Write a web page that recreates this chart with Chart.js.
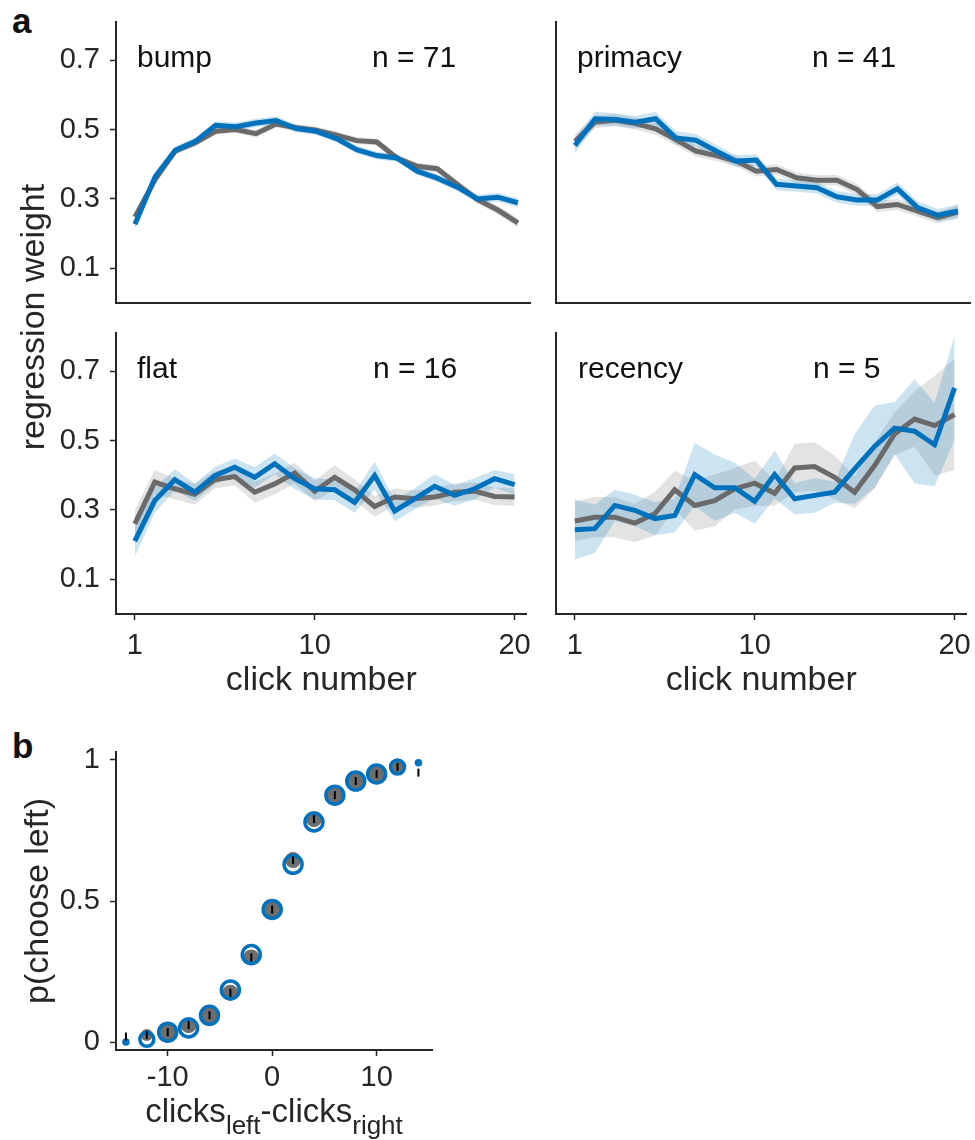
<!DOCTYPE html>
<html>
<head>
<meta charset="utf-8">
<script src="https://cdn.jsdelivr.net/npm/chart.js@4.4.1/dist/chart.umd.min.js"></script>
<style>
  body { margin: 0; width: 975px; height: 1140px; overflow: hidden; position: relative; background: #fff;
         font-family: "Liberation Sans", Arial, sans-serif; color: #111; }
  canvas { position: absolute; }
  .txt { position: absolute; font-size: 30px; line-height: 30px; white-space: nowrap; }
  .tag { position: absolute; font-size: 35px; line-height: 35px; font-weight: bold; }
  .ytitle { position: absolute; width: 400px; text-align: center; font-size: 34px; line-height: 34px;
            white-space: nowrap; transform: rotate(-90deg); color: #262626; }
  .xtitle { position: absolute; width: 500px; text-align: center; font-size: 33px; line-height: 33px;
            white-space: nowrap; color: #262626; }
  .xtitle span { font-size: 26px; vertical-align: -12px; }
</style>
</head>
<body>
<div class="tag" style="left:12px;top:3px">a</div>
<div class="tag" style="left:12px;top:728px">b</div>

<canvas id="bump" width="540" height="345" style="left:0;top:-10px"></canvas>
<canvas id="primacy" width="440" height="345" style="left:540px;top:-10px"></canvas>
<canvas id="flat" width="540" height="430" style="left:0;top:300px"></canvas>
<canvas id="recency" width="440" height="430" style="left:540px;top:300px"></canvas>
<canvas id="psycho" width="450" height="420" style="left:0;top:720px"></canvas>

<div class="txt" style="left:137px;top:42px">bump</div>
<div class="txt" style="left:372px;top:42px">n = 71</div>
<div class="txt" style="left:577px;top:42px">primacy</div>
<div class="txt" style="left:812px;top:42px">n = 41</div>
<div class="txt" style="left:137px;top:353px">flat</div>
<div class="txt" style="left:373px;top:353px">n = 16</div>
<div class="txt" style="left:578px;top:353px">recency</div>
<div class="txt" style="left:813px;top:353px">n = 5</div>

<div class="ytitle" style="left:-168px;top:300px">regression weight</div>
<div class="xtitle" style="left:24px;top:1094px">clicks<span>left</span>-clicks<span>right</span></div>

<script>
var clicks = [1, 2, 3, 4, 5, 6, 7, 8, 9, 10, 11, 12, 13, 14, 15, 16, 17, 18, 19, 20];
var weightTicks = [0.1, 0.3, 0.5, 0.7];
var clickTicks = [1, 10, 20];

// gray = data, blue = model; *Err = half width of the shaded band
var bumpData = [0.248, 0.356, 0.438, 0.462, 0.495, 0.5, 0.488, 0.516, 0.505, 0.498, 0.484, 0.468, 0.464, 0.418, 0.394, 0.387, 0.342, 0.298, 0.268, 0.231];
var bumpDataErr = [0.012, 0.011, 0.01, 0.01, 0.01, 0.01, 0.01, 0.01, 0.01, 0.01, 0.01, 0.01, 0.01, 0.01, 0.01, 0.011, 0.011, 0.012, 0.012, 0.013];
var bumpModel = [0.227, 0.364, 0.44, 0.466, 0.512, 0.508, 0.519, 0.526, 0.503, 0.495, 0.474, 0.442, 0.425, 0.418, 0.38, 0.36, 0.334, 0.3, 0.305, 0.289];
var bumpModelErr = [0.013, 0.012, 0.012, 0.011, 0.012, 0.012, 0.012, 0.012, 0.011, 0.011, 0.011, 0.011, 0.011, 0.011, 0.011, 0.011, 0.012, 0.012, 0.013, 0.013];

var primacyData = [0.466, 0.522, 0.527, 0.517, 0.502, 0.471, 0.438, 0.425, 0.409, 0.38, 0.385, 0.361, 0.354, 0.354, 0.327, 0.278, 0.284, 0.265, 0.246, 0.262];
var primacyDataErr = [0.02, 0.018, 0.017, 0.017, 0.017, 0.017, 0.016, 0.016, 0.015, 0.015, 0.015, 0.015, 0.015, 0.015, 0.016, 0.016, 0.016, 0.016, 0.017, 0.018];
var primacyModel = [0.454, 0.531, 0.529, 0.521, 0.531, 0.476, 0.469, 0.438, 0.409, 0.412, 0.342, 0.337, 0.332, 0.306, 0.297, 0.297, 0.329, 0.275, 0.253, 0.265];
var primacyModelErr = [0.022, 0.02, 0.018, 0.018, 0.02, 0.02, 0.018, 0.018, 0.017, 0.017, 0.017, 0.016, 0.016, 0.017, 0.017, 0.017, 0.018, 0.018, 0.018, 0.02];

var flatData = [0.26, 0.38, 0.361, 0.345, 0.387, 0.396, 0.351, 0.375, 0.406, 0.354, 0.394, 0.358, 0.31, 0.337, 0.332, 0.337, 0.351, 0.354, 0.339, 0.337];
var flatDataErr = [0.04, 0.035, 0.03, 0.03, 0.025, 0.025, 0.03, 0.03, 0.03, 0.03, 0.035, 0.03, 0.03, 0.025, 0.025, 0.025, 0.025, 0.025, 0.025, 0.025];
var flatModel = [0.21, 0.327, 0.387, 0.351, 0.399, 0.423, 0.394, 0.433, 0.39, 0.361, 0.358, 0.322, 0.399, 0.297, 0.332, 0.368, 0.342, 0.361, 0.39, 0.373];
var flatModelErr = [0.045, 0.035, 0.03, 0.025, 0.025, 0.025, 0.03, 0.03, 0.03, 0.03, 0.03, 0.03, 0.04, 0.03, 0.03, 0.035, 0.03, 0.03, 0.025, 0.03];

var recencyData = [0.268, 0.279, 0.279, 0.262, 0.289, 0.358, 0.313, 0.327, 0.361, 0.377, 0.348, 0.421, 0.425, 0.394, 0.351, 0.428, 0.519, 0.562, 0.543, 0.575];
var recencyDataErr = [0.057, 0.058, 0.058, 0.055, 0.063, 0.055, 0.072, 0.075, 0.06, 0.065, 0.036, 0.07, 0.07, 0.063, 0.046, 0.067, 0.062, 0.08, 0.144, 0.16];
var recencyModel = [0.243, 0.246, 0.313, 0.299, 0.275, 0.284, 0.402, 0.364, 0.364, 0.325, 0.402, 0.332, 0.342, 0.351, 0.418, 0.483, 0.536, 0.527, 0.488, 0.652];
var recencyModelErr = [0.086, 0.07, 0.045, 0.045, 0.048, 0.048, 0.091, 0.096, 0.072, 0.065, 0.069, 0.045, 0.05, 0.03, 0.1, 0.118, 0.075, 0.15, 0.12, 0.15];

// psychometric curve
var clickDiff = [-14, -12, -10, -8, -6, -4, -2, 0, 2, 4, 6, 8, 10, 12, 14];
var pLeftData = [0.02, 0.025, 0.035, 0.06, 0.095, 0.175, 0.3, 0.47, 0.645, 0.79, 0.875, 0.925, 0.95, 0.975, 0.955];
var pLeftModel = [0.0, 0.01, 0.035, 0.05, 0.095, 0.185, 0.31, 0.47, 0.63, 0.78, 0.875, 0.925, 0.95, 0.975, 0.99];
var pTicks = [0, 0.5, 1];
var diffTicks = [-10, 0, 10];

var axisColor = "#262626";
var blue = "#0072BD";
var gray = "#6a6a6a";
var blueBand = "rgba(0,114,189,0.2)";
var grayBand = "rgba(140,140,140,0.24)";
var fontFamily = "'Liberation Sans', Arial, sans-serif";
var tickFont = { family: fontFamily, size: 29 };

function pts(xs, ys, err, sign) {
  return xs.map(function (x, i) {
    return { x: x, y: ys[i] + (err ? sign * err[i] : 0) };
  });
}

function fixedTicks(values) {
  return function (scale) {
    scale.ticks = values.map(function (v) { return { value: v }; });
  };
}

function weightChart(id, data, dataErr, model, modelErr, left, bottom) {
  var el = document.getElementById(id);
  return new Chart(el, {
    type: "line",
    data: {
      datasets: [
        { data: pts(clicks, model), borderColor: blue, borderWidth: 5, pointRadius: 0, fill: false },
        { data: pts(clicks, data), borderColor: gray, borderWidth: 5, pointRadius: 0, fill: false },
        { data: pts(clicks, model, modelErr, 1), borderWidth: 0, pointRadius: 0, backgroundColor: blueBand, fill: "+1" },
        { data: pts(clicks, model, modelErr, -1), borderWidth: 0, pointRadius: 0, fill: false },
        { data: pts(clicks, data, dataErr, 1), borderWidth: 0, pointRadius: 0, backgroundColor: grayBand, fill: "+1" },
        { data: pts(clicks, data, dataErr, -1), borderWidth: 0, pointRadius: 0, fill: false },
      ],
    },
    options: {
      responsive: false,
      animation: false,
      events: [],
      layout: { padding: { left: 0, top: bottom ? 33 : 32, right: 10, bottom: 0 } },
      plugins: { legend: { display: false }, tooltip: { enabled: false } },
      scales: {
        x: {
          type: "linear",
          min: 0.06,
          max: 20.6,
          afterBuildTicks: fixedTicks(bottom ? clickTicks : []),
          afterFit: function (s) { s.height = bottom ? 116 : 32; },
          ticks: { display: bottom, font: tickFont, color: axisColor, padding: 9, maxRotation: 0, autoSkip: false },
          grid: { display: bottom, drawOnChartArea: false, drawTicks: true, tickLength: 6, tickWidth: 1.5, color: axisColor },
          border: { display: true, color: axisColor, width: 2 },
          title: { display: bottom, text: "click number", color: axisColor, font: { family: fontFamily, size: 34 }, padding: { top: 0, bottom: 29 } },
        },
        y: {
          min: 0,
          max: 0.81,
          afterBuildTicks: fixedTicks(weightTicks),
          afterFit: function (s) { s.width = left ? 116 : 16; },
          ticks: {
            display: left, font: tickFont, color: axisColor, padding: 10,
            callback: function (v) { return v.toFixed(1); },
          },
          grid: { display: left, drawOnChartArea: false, drawTicks: true, tickLength: 6, tickWidth: 1.5, color: axisColor },
          border: { display: true, color: axisColor, width: 2 },
        },
      },
    },
  });
}

weightChart("bump", bumpData, bumpDataErr, bumpModel, bumpModelErr, true, false);
weightChart("primacy", primacyData, primacyDataErr, primacyModel, primacyModelErr, false, false);
weightChart("flat", flatData, flatDataErr, flatModel, flatModelErr, true, true);
weightChart("recency", recencyData, recencyDataErr, recencyModel, recencyModelErr, false, true);

// marker size shrinks at the extreme click differences
function markerSize(x, big, mid, small) {
  var a = Math.abs(x);
  return a >= 14 ? small : a >= 12 ? mid : big;
}

var pschart = new Chart(document.getElementById("psycho"), {
  type: "scatter",
  data: {
    datasets: [
      {
        data: pts(clickDiff, pLeftData),
        pointStyle: "line",
        pointRotation: 90,
        pointRadius: 4,
        pointBorderWidth: 2,
        pointBorderColor: "#000",
      },
      {
        data: pts(clickDiff, pLeftModel),
        pointRadius: function (ctx) { return markerSize(ctx.raw.x, 9, 7, 2); },
        pointBorderWidth: 3.5,
        pointBorderColor: blue,
        pointBackgroundColor: "rgba(0,0,0,0)",
      },
      {
        data: pts(clickDiff, pLeftData),
        pointRadius: function (ctx) { return markerSize(ctx.raw.x, 8, 6, 0); },
        pointBorderWidth: 0,
        pointBackgroundColor: "#6e6e6e",
      },
    ],
  },
  options: {
    responsive: false,
    animation: false,
    events: [],
    layout: { padding: { left: 0, top: 32, right: 18, bottom: 0 } },
    plugins: { legend: { display: false }, tooltip: { enabled: false } },
    scales: {
      x: {
        type: "linear",
        min: -14.95,
        max: 15.3,
        afterBuildTicks: fixedTicks(diffTicks),
        afterFit: function (s) { s.height = 90; },
        ticks: { font: tickFont, color: axisColor, padding: 5, maxRotation: 0, autoSkip: false },
        grid: { drawOnChartArea: false, drawTicks: true, tickLength: 6, tickWidth: 1.5, color: axisColor },
        border: { display: true, color: axisColor, width: 2 },
      },
      y: {
        min: -0.028,
        max: 1.028,
        afterBuildTicks: fixedTicks(pTicks),
        afterFit: function (s) { s.width = 116; },
        ticks: { font: tickFont, color: axisColor, padding: 10, callback: function (v) { return String(v); } },
        grid: { drawOnChartArea: false, drawTicks: true, tickLength: 6, tickWidth: 1.5, color: axisColor },
        border: { display: true, color: axisColor, width: 2 },
        title: { display: true, text: "p(choose left)", color: axisColor, font: { family: fontFamily, size: 34 }, padding: { top: 18, bottom: 0 } },
      },
    },
  },
});
</script>
</body>
</html>
